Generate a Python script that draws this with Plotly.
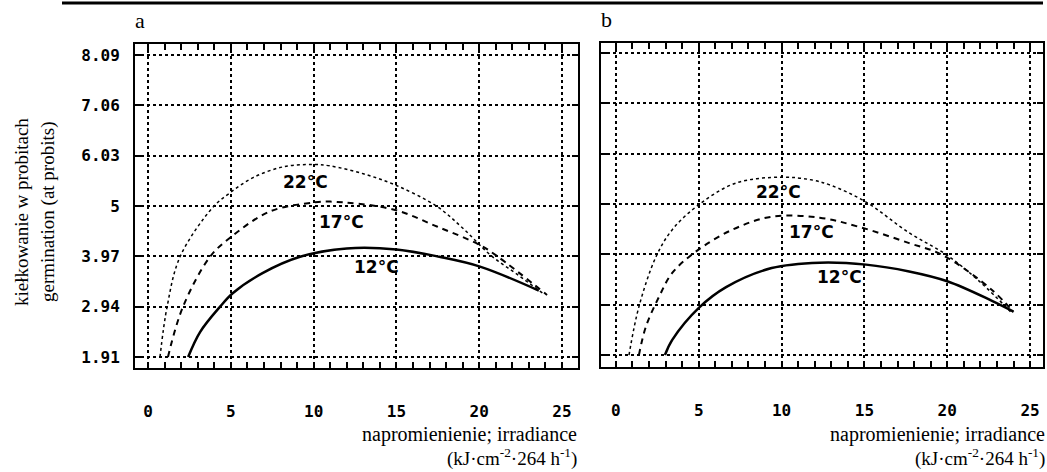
import plotly.graph_objects as go

# Irradiance (kJ·cm-2·264 h-1) and germination (probits), panel a
irr_22a = [0.72, 1.15, 1.93, 3.93, 4.95, 6.34, 8.15, 9.96, 11.0, 13.0, 15.0, 17.45, 19.0, 20.7, 22.3, 23.9]
germ_22a = [1.91, 2.94, 3.96, 4.98, 5.27, 5.58, 5.80, 5.85, 5.82, 5.66, 5.42, 4.99, 4.55, 3.99, 3.60, 3.20]
irr_17a = [1.2, 2.11, 3.74, 4.95, 7.37, 9.96, 11.0, 14.8, 17.45, 20.05, 21.1, 24.1]
germ_17a = [1.91, 2.94, 3.96, 4.35, 4.89, 5.07, 5.09, 4.93, 4.58, 4.20, 3.97, 3.18]
irr_12a = [2.42, 3.14, 4.35, 5.13, 6.94, 9.18, 12.0, 15.0, 17.6, 20.05, 23.6]
germ_12a = [1.91, 2.42, 2.94, 3.22, 3.63, 3.96, 4.13, 4.11, 3.96, 3.76, 3.27]

# Panel b
irr_22b = [0.79, 1.39, 2.42, 3.39, 5.02, 7.26, 10.04, 11.86, 13.0, 15.1, 17.7, 19.96, 22.0, 23.9]
germ_22b = [1.91, 2.90, 3.92, 4.47, 4.99, 5.43, 5.55, 5.49, 5.38, 5.04, 4.41, 3.96, 3.40, 2.77]
irr_17b = [1.39, 1.8, 2.6, 3.4, 4.8, 7.0, 9.4, 12.3, 14.7, 17.7, 19.7, 22.7, 24.0]
germ_17b = [1.91, 2.48, 3.10, 3.59, 4.02, 4.47, 4.74, 4.72, 4.53, 4.20, 3.96, 3.24, 2.79]
irr_12b = [2.96, 3.4, 5.02, 6.65, 9.4, 12.3, 15.1, 17.7, 20.0, 22.7, 24.0]
germ_12b = [1.91, 2.22, 2.88, 3.30, 3.69, 3.80, 3.76, 3.62, 3.42, 3.02, 2.80]

temps = ["22°C", "17°C", "12°C"]
label_pos_a = [(9.5, 5.49), (11.7, 4.67), (13.8, 3.75)]
label_pos_b = [(9.8, 5.24), (11.8, 4.43), (13.5, 3.51)]

y_ticks = [1.91, 2.94, 3.97, 5, 6.03, 7.06, 8.09]
y_tick_text = ["1.91", "2.94", "3.97", "5", "6.03", "7.06", "8.09"]
x_ticks = [0, 5, 10, 15, 20, 25]
x_tick_text = ["0", "5", "10", "15", "20", "25"]

W, H = 1047, 472

styles = [
    dict(color="black", width=1.5, dash="dot"),
    dict(color="black", width=2, dash="6px,5px"),
    dict(color="black", width=2.5, dash="solid"),
]

fig = go.Figure()

panels = [
    ("x", "y", [(irr_22a, germ_22a), (irr_17a, germ_17a), (irr_12a, germ_12a)], label_pos_a),
    ("x2", "y2", [(irr_22b, germ_22b), (irr_17b, germ_17b), (irr_12b, germ_12b)], label_pos_b),
]

for xa, ya, series, lpos in panels:
    for (xs, ys), st, name in zip(series, styles, temps):
        fig.add_trace(go.Scatter(x=xs, y=ys, mode="lines", line=dict(shape="spline", smoothing=1.0, **st),
                                 name=name, xaxis=xa, yaxis=ya, showlegend=False, hoverinfo="skip"))
    for (lx, ly), name in zip(lpos, temps):
        fig.add_annotation(x=lx, y=ly, xref=xa, yref=ya, text=name, showarrow=False,
                           font=dict(family="DejaVu Sans", size=17, color="black", weight="bold"))

tick_font = dict(family="DejaVu Sans Mono", size=16, color="black", weight="bold")

def x_axis(domain, rng, anchor):
    return dict(domain=domain, range=rng, anchor=anchor, tickvals=x_ticks, ticktext=x_tick_text,
                ticks="inside", ticklen=6, tickwidth=1.5, tickcolor="black",
                minor=dict(dtick=1, tick0=0, ticks="inside", ticklen=6, tickwidth=1.5,
                           tickcolor="black", showgrid=False),
                showline=True, linewidth=2, linecolor="black", mirror="ticks",
                showgrid=True, gridcolor="black", griddash="dot", gridwidth=1.5,
                zeroline=False, tickfont=tick_font, ticklabelstandoff=28, fixedrange=True)

def y_axis(domain, rng, anchor, labels):
    return dict(domain=domain, range=rng, anchor=anchor, tickvals=y_ticks, ticktext=y_tick_text,
                showticklabels=labels, ticks="inside", ticklen=6, tickwidth=1.5, tickcolor="black",
                showline=True, linewidth=2, linecolor="black", mirror="ticks",
                showgrid=True, gridcolor="black", griddash="dot", gridwidth=1.5,
                zeroline=False, tickfont=tick_font, ticklabelstandoff=10, fixedrange=True)

fig.update_layout(
    width=W, height=H,
    margin=dict(l=0, r=0, t=0, b=0),
    paper_bgcolor="white", plot_bgcolor="white",
    xaxis=x_axis([135 / W, 578 / W], [-0.79, 25.97], "y"),
    yaxis=y_axis([1 - 368 / H, 1 - 44 / H], [1.685, 8.315], "x", True),
    xaxis2=x_axis([601 / W, 1043 / W], [-0.9, 25.78], "y2"),
    yaxis2=y_axis([1 - 367 / H, 1 - 43 / H], [1.665, 8.295], "x2", False),
)

serif = "Liberation Serif"

def paper_text(x, y, text, size, xanchor="center", yanchor="middle", angle=0):
    fig.add_annotation(x=x / W, y=1 - y / H, xref="paper", yref="paper", text=text,
                       xanchor=xanchor, yanchor=yanchor, textangle=angle, showarrow=False,
                       borderpad=0, font=dict(family=serif, size=size, color="black"))

# rule across the top
fig.add_shape(type="line", xref="paper", yref="paper", x0=62 / W, x1=1043 / W,
              y0=1 - 3 / H, y1=1 - 3 / H, line=dict(color="black", width=3))

# panel letters
paper_text(140, 20, "a", 22)
paper_text(606, 19, "b", 22)

# y-axis title (two lines)
paper_text(21, 212, "kiełkowanie w probitach", 19, angle=-90)
paper_text(48, 212, "germination (at probits)", 19, angle=-90)

# x-axis titles
for right in [578, 1046]:
    paper_text(right, 434, "napromienienie; irradiance", 20, xanchor="right")
    paper_text(right, 471, "(kJ·cm<sup>-2</sup>·264 h<sup>-1</sup>)", 19, xanchor="right", yanchor="bottom")

fig.write_html("out.html")
